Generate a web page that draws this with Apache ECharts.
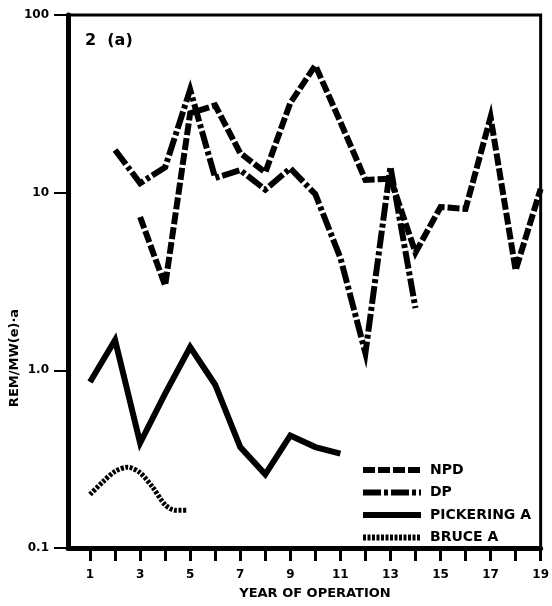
<!DOCTYPE html>
<html>
<head>
<meta charset="utf-8">
<script src="https://cdn.jsdelivr.net/npm/echarts@6/dist/echarts.min.js"></script>
<style>
  html, body { margin: 0; padding: 0; background: #fff; }
  #main { width: 552px; height: 606px; }
</style>
</head>
<body>
<div id="main"></div>
<script>
// data
var npdYears = [3, 4, 5, 6, 7, 8, 9, 10, 11, 12, 13, 14, 15, 16, 17, 18, 19];
var npdValues = [7.3, 3.0, 28, 31, 16.7, 13, 32, 52, 25, 11.8, 12, 4.6, 8.3, 8.1, 26.6, 3.66, 10.5];

var dpYears = [2, 3, 4, 5, 6, 7, 8, 9, 10, 11, 12, 13, 14];
var dpValues = [17.4, 11.3, 13.9, 38, 12.1, 13.4, 10.4, 13.7, 9.8, 4.3, 1.25, 14, 2.24];

var pickYears = [1, 2, 3, 4, 5, 6, 7, 8, 9, 10, 11];
var pickValues = [0.86, 1.48, 0.39, 0.74, 1.35, 0.83, 0.37, 0.26, 0.43, 0.37, 0.34];

var bruceYears = [1, 1.5, 2, 2.5, 3, 3.5, 4, 4.4, 4.85];
var bruceValues = [0.2, 0.235, 0.27, 0.285, 0.265, 0.22, 0.175, 0.163, 0.163];

var xTicks = [1, 2, 3, 4, 5, 6, 7, 8, 9, 10, 11, 12, 13, 14, 15, 16, 17, 18, 19];
var xLabels = [1, 3, 5, 7, 9, 11, 13, 15, 17, 19];
var yLabels = {0.1: '0.1', 1: '1.0', 10: '10', 100: '100'};

function pairs(xs, ys) {
  return xs.map(function (x, i) { return [x, ys[i]]; });
}

var font = '"DejaVu Sans", Verdana, sans-serif';
var myChart = echarts.init(document.getElementById('main'));

var option = {
  animation: false,
  color: ['#000', '#000', '#000', '#000'],
  title: {
    text: '2  (a)',
    left: 80,
    top: 28,
    textStyle: { fontFamily: font, fontWeight: 'bold', fontSize: 16, color: '#000' }
  },
  legend: {
    orient: 'vertical',
    left: 355,
    top: 458,
    itemWidth: 58,
    itemHeight: 14,
    itemGap: 8.5,
    data: ['NPD', 'DP', 'PICKERING A', 'BRUCE A'],
    itemStyle: { opacity: 0 },
    lineStyle: { width: 6, cap: 'butt' },
    textStyle: { fontFamily: font, fontWeight: 'bold', fontSize: 14, color: '#000', padding: [0, 0, 0, 4] }
  },
  grid: {
    left: 68,
    right: 9,
    top: 15,
    bottom: 58,
    show: true,
    borderColor: '#000',
    borderWidth: 3
  },
  xAxis: {
    type: 'value',
    min: 0.12,
    max: 19,
    splitLine: { show: false },
    axisLine: { lineStyle: { color: '#000', width: 5 } },
    axisTick: {
      customValues: xTicks,
      length: 13,
      lineStyle: { color: '#000', width: 3 }
    },
    axisLabel: {
      customValues: xLabels,
      margin: 21,
      fontFamily: font,
      fontWeight: 'bold',
      fontSize: 12,
      color: '#000'
    }
  },
  yAxis: {
    type: 'log',
    logBase: 10,
    min: 0.1,
    max: 100,
    splitLine: { show: false },
    minorTick: { show: false },
    axisLine: { lineStyle: { color: '#000', width: 5 } },
    axisTick: { length: 14, lineStyle: { color: '#000', width: 2 } },
    axisLabel: {
      margin: 19,
      fontFamily: font,
      fontWeight: 'bold',
      fontSize: 12,
      color: '#000',
      formatter: function (v) { return yLabels[v] || ''; }
    }
  },
  graphic: [
    {
      type: 'text',
      x: 15,
      y: 358,
      rotation: Math.PI / 2,
      style: {
        text: 'REM/MW(e)·a',
        fontFamily: font,
        fontWeight: 'bold',
        fontSize: 13,
        fill: '#000',
        align: 'center',
        verticalAlign: 'middle'
      }
    },
    {
      type: 'text',
      x: 315,
      y: 594,
      style: {
        text: 'YEAR OF OPERATION',
        fontFamily: font,
        fontWeight: 'bold',
        fontSize: 13,
        fill: '#000',
        align: 'center',
        verticalAlign: 'middle'
      }
    }
  ],
  series: [
    {
      name: 'NPD',
      type: 'line',
      symbol: 'none',
      data: pairs(npdYears, npdValues),
      lineStyle: { color: '#000', width: 6, type: [12, 3], cap: 'butt', join: 'miter' }
    },
    {
      name: 'DP',
      type: 'line',
      symbol: 'none',
      data: pairs(dpYears, dpValues),
      lineStyle: { color: '#000', width: 6, type: [18, 3, 4, 3], cap: 'butt', join: 'miter' }
    },
    {
      name: 'PICKERING A',
      type: 'line',
      symbol: 'none',
      data: pairs(pickYears, pickValues),
      lineStyle: { color: '#000', width: 6, join: 'miter' }
    },
    {
      name: 'BRUCE A',
      type: 'line',
      symbol: 'none',
      smooth: 0.3,
      data: pairs(bruceYears, bruceValues),
      lineStyle: { color: '#000', width: 5, type: [3, 1.5], cap: 'butt' }
    }
  ]
};
myChart.setOption(option);
</script>
</body>
</html>
